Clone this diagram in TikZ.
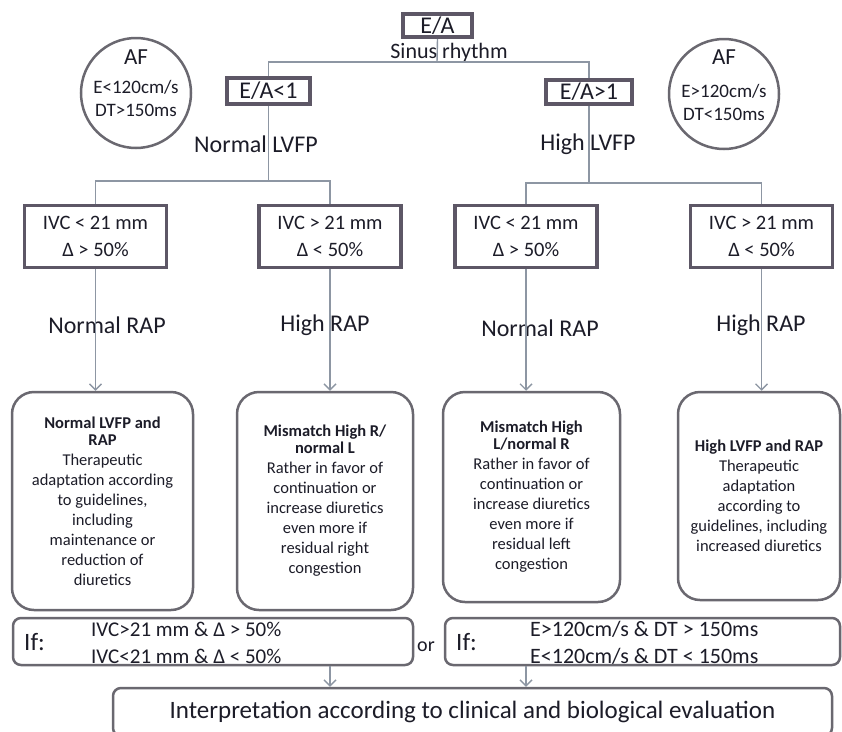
\documentclass[tikz,border=0pt]{standalone}
\usepackage{fontspec}
\setmainfont{Carlito}
\usepackage{tikz}
\usetikzlibrary{arrows.meta,positioning,shapes.geometric,calc}
\definecolor{boxgray}{HTML}{5D5766}
\definecolor{rndgray}{HTML}{6A6870}
\definecolor{linegray}{HTML}{8D96A3}
\definecolor{ink}{HTML}{1C1C28}

\begin{document}
\begin{tikzpicture}[x=1pt,y=-1pt,
 every node/.style={text=ink},
 gate/.style={rectangle,draw=boxgray,line width=4pt,inner sep=0pt,font={\fontsize{24}{28}\selectfont}},
 ivc/.style={rectangle,draw=boxgray,line width=3.5pt,minimum width=142pt,minimum height=62pt,align=center,font={\fontsize{20.5}{27}\selectfont}},
 afc/.style={circle,draw=rndgray,line width=2.5pt,minimum size=110pt,inner sep=0pt},
 aft/.style={align=center,inner sep=0pt,anchor=north,font={\fontsize{19}{23}\selectfont}},
 lbl/.style={inner sep=0pt,font={\fontsize{24}{28}\selectfont}},
 outc/.style={rectangle,rounded corners=22pt,draw=rndgray,line width=2.5pt,align=center,inner sep=0pt,font={\fontsize{16.5}{20}\selectfont}},
 ifb/.style={rectangle,rounded corners=8pt,draw=rndgray,line width=2.5pt,minimum height=47pt},
 cond/.style={align=left,anchor=west,inner sep=0pt,font={\fontsize{21}{27}\selectfont}},
 conn/.style={draw=linegray,line width=1.4pt},
 arr/.style={conn,-{Straight Barb[length=6pt,width=12pt]}}
]
\useasboundingbox (0,0) rectangle (842,731);
\clip (0,0) rectangle (842,731);
\fill[white] (0,0) rectangle (842,731);

\node[gate,minimum width=69pt,minimum height=23pt] (ea) at (437.5,25.5) {E/A};
\node[lbl,font={\fontsize{22}{26}\selectfont}] (sinus) at (449,53) {Sinus rhythm};
\node[gate,minimum width=83pt,minimum height=26pt] (ealow) at (268.5,91) {E/A<1};
\node[gate,minimum width=86pt,minimum height=24pt] (eahigh) at (589,92) {E/A>1};
\node[lbl] (nlvfp) at (256,144) {Normal LVFP};
\node[lbl] (hlvfp) at (588,144) {High LVFP};

\node[afc] (afl) at (136,93) {};
\node[aft] (afltx) at (136,50) {{\fontsize{23}{27}\selectfont AF}\\[6pt]E<120cm/s\\DT>150ms};
\node[afc] (afr) at (724,94) {};
\node[aft] (afrtx) at (724,50) {{\fontsize{23}{27}\selectfont AF}\\[10pt]E>120cm/s\\DT<150ms};

\node[ivc] (ivc1) at (95.5,236.5) {IVC < 21 mm\\Δ > 50\%};
\node[ivc] (ivc2) at (330,236.5) {IVC > 21 mm\\Δ < 50\%};
\node[ivc] (ivc3) at (526,236.5) {IVC < 21 mm\\Δ > 50\%};
\node[ivc] (ivc4) at (761.5,236.5) {IVC > 21 mm\\Δ < 50\%};

\node[lbl] (rap1) at (107,325) {Normal RAP};
\node[lbl] (rap2) at (325,325) {High RAP};
\node[lbl] (rap3) at (540,328) {Normal RAP};
\node[lbl] (rap4) at (761,325) {High RAP};

\node[outc,minimum width=181pt,minimum height=218pt] (oa) at (102.5,501) {\textbf{Normal LVFP and}\\[-3pt]\textbf{RAP}\\Therapeutic\\adaptation according\\to guidelines,\\including\\maintenance or\\reduction of\\diuretics};
\node[outc,minimum width=176pt,minimum height=218pt] (ob) at (325,501) {\textbf{Mismatch High R/}\\[-3pt]\textbf{normal L}\\Rather in favor of\\continuation or\\increase diuretics\\even more if\\residual right\\congestion};
\node[outc,minimum width=177pt,minimum height=210pt] (oc) at (531.5,497) {\textbf{Mismatch High}\\[-3pt]\textbf{L/normal R}\\Rather in favor of\\continuation or\\increase diuretics\\even more if\\residual left\\congestion};
\node[outc,minimum width=162pt,minimum height=208pt] (od) at (759,496) {\textbf{High LVFP and RAP}\\Therapeutic\\adaptation\\according to\\guidelines, including\\increased diuretics};

\node[ifb,minimum width=400pt] (if1) at (213,641.5) {};
\node[lbl,anchor=west,font={\fontsize{25}{30}\selectfont}] (if1lbl) at (24,642) {If:};
\node[cond] (if1txt) at (91,643) {IVC>21 mm \& Δ > 50\%\\IVC<21 mm \& Δ < 50\%};
\node[lbl,font={\fontsize{20}{24}\selectfont}] (or) at (426,647) {or};
\node[ifb,minimum width=395pt] (if2) at (642.5,641.5) {};
\node[lbl,anchor=west,font={\fontsize{25}{30}\selectfont}] (if2lbl) at (456,642) {If:};
\node[cond,font={\fontsize{22}{27}\selectfont}] (if2txt) at (530,643) {E>120cm/s \& DT > 150ms\\E<120cm/s \& DT < 150ms};
\node[ifb,minimum width=719pt,minimum height=48pt,font={\fontsize{25}{29}\selectfont}] (interp) at (472.5,712) {Interpretation according to clinical and biological evaluation};

\coordinate (sr) at (437,62);
\coordinate (lsplit) at (268,181);
\coordinate (hsplit) at (588,183);
\draw[conn] (ea.south) -- (sr);
\draw[conn] (ealow.north) -- (ealow.north |- sr) -- (eahigh.north |- sr) -- (eahigh.north);
\draw[conn] (ealow.south) -- (ealow.south |- lsplit);
\draw[conn] (ivc1.north) -- (ivc1.north |- lsplit) -- (ivc2.north |- lsplit) -- (ivc2.north);
\draw[conn] (eahigh.south) -- (eahigh.south |- hsplit);
\draw[conn] (ivc3.north) -- (ivc3.north |- hsplit) -- (ivc4.north |- hsplit) -- (ivc4.north);
\draw[arr] (ivc1.south) -- (ivc1.south |- oa.north);
\draw[arr] (ivc2.south) -- (ivc2.south |- ob.north);
\draw[arr] (ivc3.south) -- (ivc3.south |- oc.north);
\draw[arr] (ivc4.south) -- (ivc4.south |- od.north);
\draw[arr] (if1.south -| ivc2) -- (ivc2 |- interp.north);
\draw[arr] (if2.south -| ivc3) -- (ivc3 |- interp.north);
\end{tikzpicture}
\end{document}
